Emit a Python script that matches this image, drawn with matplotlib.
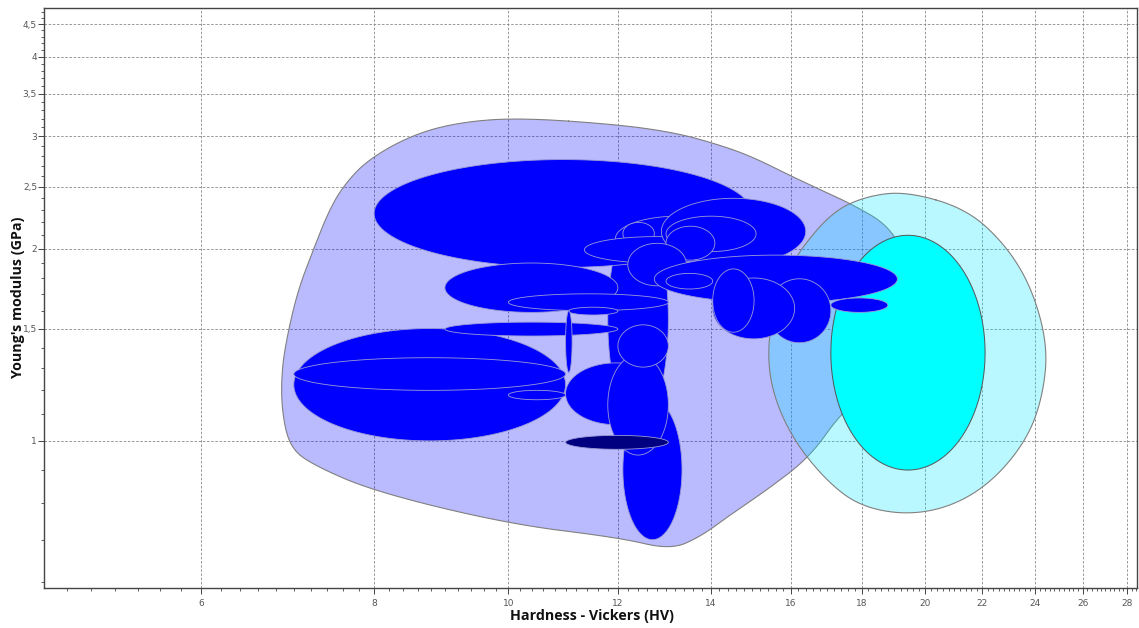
import numpy as np
import matplotlib
matplotlib.use("Agg")
import matplotlib.pyplot as plt
from matplotlib.ticker import FixedLocator, MultipleLocator, NullFormatter, FuncFormatter

# material bubbles: hardness range (HV) and Young's modulus range (GPa), in drawing order
hv_lo = [11.8, 8.0, 11.95, 12.1, 11.35, 12.9, 13.0, 13.0, 12.2, 12.75, 13.0, 15.4, 14.05, 14.05, 17.1,
         9.0, 10.0, 11.05, 7.0, 7.0, 10.0, 9.0, 11.0, 12.1, 11.0, 11.8, 12.0]
hv_hi = [13.05, 15.0, 14.7, 12.75, 14.4, 16.4, 15.1, 14.1, 13.45, 19.1, 14.05, 17.1, 16.1, 15.05, 18.8,
         12.0, 13.05, 12.0, 11.0, 11.0, 11.0, 12.0, 11.12, 13.35, 13.0, 13.05, 13.05]
e_lo = [1.06, 1.87, 1.91, 2.03, 1.90, 1.89, 1.98, 1.92, 1.75, 1.645, 1.73, 1.425, 1.445, 1.48, 1.59,
        1.59, 1.60, 1.575, 1.0, 1.2, 1.16, 1.46, 1.28, 0.70, 1.06, 0.95, 1.305]
e_hi = [2.26, 2.76, 2.25, 2.20, 2.09, 2.40, 2.25, 2.17, 2.04, 1.955, 1.83, 1.795, 1.80, 1.86, 1.675,
        1.90, 1.70, 1.62, 1.5, 1.35, 1.20, 1.535, 1.60, 1.16, 1.325, 1.365, 1.52]

# single dark bubble drawn on top
navy_hv = (11.0, 13.05)
navy_e = (0.97, 1.02)

# cyan family bubble
cyan_hv = (17.1, 22.1)
cyan_e = (0.90, 2.10)

# family envelopes (boundary points, clockwise)
env_blue_hv = [10.2, 12.04, 13.2, 14.06, 14.95, 16.24, 17.65, 18.93, 19.5, 19.4, 18.7, 17.39, 16.52, 15.38,
               14.53, 13.76, 13.09, 12.04, 10.03, 8.01, 7.2, 6.95, 6.86, 6.86, 6.93, 7.05, 7.23, 7.41,
               7.59, 7.91, 8.53, 9.23]
env_blue_e = [3.21, 3.13, 3.04, 2.93, 2.80, 2.56, 2.36, 2.16, 1.85, 1.50, 1.27, 1.106, 0.944, 0.838,
              0.771, 0.707, 0.675, 0.705, 0.74, 0.832, 0.92, 0.98, 1.118, 1.292, 1.476, 1.724, 1.992, 2.278,
              2.50, 2.757, 3.02, 3.16]
env_cyan_hv = [19.40, 21.44, 22.91, 23.92, 24.53, 24.32, 23.69, 22.39, 20.94, 19.40, 17.94, 16.98, 16.06,
               15.51, 15.38, 15.64, 16.24, 17.16, 18.16]
env_cyan_e = [2.46, 2.31, 2.02, 1.724, 1.404, 1.172, 1.004, 0.865, 0.79, 0.765, 0.79, 0.865, 1.004,
              1.189, 1.404, 1.724, 1.992, 2.29, 2.42]

x_ticks = [6, 8, 10, 12, 14, 16, 18, 20, 22, 24, 26, 28]
y_ticks = [1, 1.5, 2, 2.5, 3, 3.5, 4, 4.5]


def log_ellipse(lo_x, hi_x, lo_y, hi_y, n=200):
    t = np.linspace(0, 2 * np.pi, n)
    cx, ax_ = (np.log10(lo_x) + np.log10(hi_x)) / 2, (np.log10(hi_x) - np.log10(lo_x)) / 2
    cy, ay_ = (np.log10(lo_y) + np.log10(hi_y)) / 2, (np.log10(hi_y) - np.log10(lo_y)) / 2
    return 10 ** (cx + ax_ * np.cos(t)), 10 ** (cy + ay_ * np.sin(t))


def smooth_closed(xs, ys, iters=5):
    # Chaikin corner cutting on the closed outline, in log space
    p = np.column_stack([np.log10(xs), np.log10(ys)])
    for _ in range(iters):
        q = np.roll(p, -1, axis=0)
        p = np.column_stack([0.75 * p + 0.25 * q, 0.25 * p + 0.75 * q]).reshape(-1, 2)
    p = np.vstack([p, p[:1]])
    return 10 ** p[:, 0], 10 ** p[:, 1]


fig = plt.figure(figsize=(11.39, 6.28), dpi=100)
ax = fig.add_axes([0.0386, 0.0637, 0.9596, 0.9236])
ax.set_xscale("log")
ax.set_yscale("log")
ax.set_xlim(4.62, 28.45)
ax.set_ylim(0.588, 4.77)

# envelopes
ex, ey = smooth_closed(env_blue_hv, env_blue_e)
ax.fill(ex, ey, facecolor="#0000ff", alpha=0.27, edgecolor="none", zorder=2)
ax.plot(ex, ey, color="#808080", lw=0.8, zorder=2)
cx_, cy_ = smooth_closed(env_cyan_hv, env_cyan_e)
ax.fill(cx_, cy_, facecolor="#00e8ff", alpha=0.27, edgecolor="none", zorder=2)
ax.plot(cx_, cy_, color="#808080", lw=0.8, zorder=2)

# cyan bubble
x, y = log_ellipse(*cyan_hv, *cyan_e)
ax.fill(x, y, facecolor="#00ffff", edgecolor="#555555", lw=0.7, zorder=3)

# blue bubbles
for i in range(len(hv_lo)):
    x, y = log_ellipse(hv_lo[i], hv_hi[i], e_lo[i], e_hi[i])
    ax.fill(x, y, facecolor="#0000ff", edgecolor="#9a9ad6", lw=0.6, zorder=4)

x, y = log_ellipse(*navy_hv, *navy_e)
ax.fill(x, y, facecolor="#000080", edgecolor="#9a9ad6", lw=0.6, zorder=5)

# axes styling
ax.xaxis.set_major_locator(FixedLocator(x_ticks))
ax.xaxis.set_minor_locator(MultipleLocator(0.2))
ax.xaxis.set_major_formatter(FuncFormatter(lambda v, p: f"{v:g}"))
ax.xaxis.set_minor_formatter(NullFormatter())
ax.yaxis.set_major_locator(FixedLocator(y_ticks))
ax.yaxis.set_minor_locator(MultipleLocator(0.1))
ax.yaxis.set_major_formatter(FuncFormatter(lambda v, p: f"{v:g}".replace(".", ",")))
ax.yaxis.set_minor_formatter(NullFormatter())

ax.tick_params(which="major", direction="out", length=4, width=0.7, color="#444444",
               labelsize=6.5, labelcolor="#555555")
ax.tick_params(axis="x", which="major", pad=4)
ax.tick_params(axis="y", which="major", pad=1)
ax.tick_params(which="minor", direction="out", length=2.5, width=0.6, color="#444444")
ax.grid(True, which="major", color="#888888", linestyle=(0, (3, 2)), linewidth=0.6, zorder=1)
ax.set_axisbelow(True)
for s in ax.spines.values():
    s.set_color("#444444")
    s.set_linewidth(1.0)

fig.text(592 / 1139, 1 - 616 / 628, "Hardness - Vickers (HV)", fontsize=10.3, fontweight="bold",
         family="Open Sans", ha="center", va="center", color="#111111")
fig.text(18 / 1139, 1 - 297 / 628, "Young's modulus (GPa)", fontsize=10.3, fontweight="bold",
         family="Open Sans", ha="center", va="center", rotation=90, color="#111111")

fig.savefig("out.png", dpi=100)
